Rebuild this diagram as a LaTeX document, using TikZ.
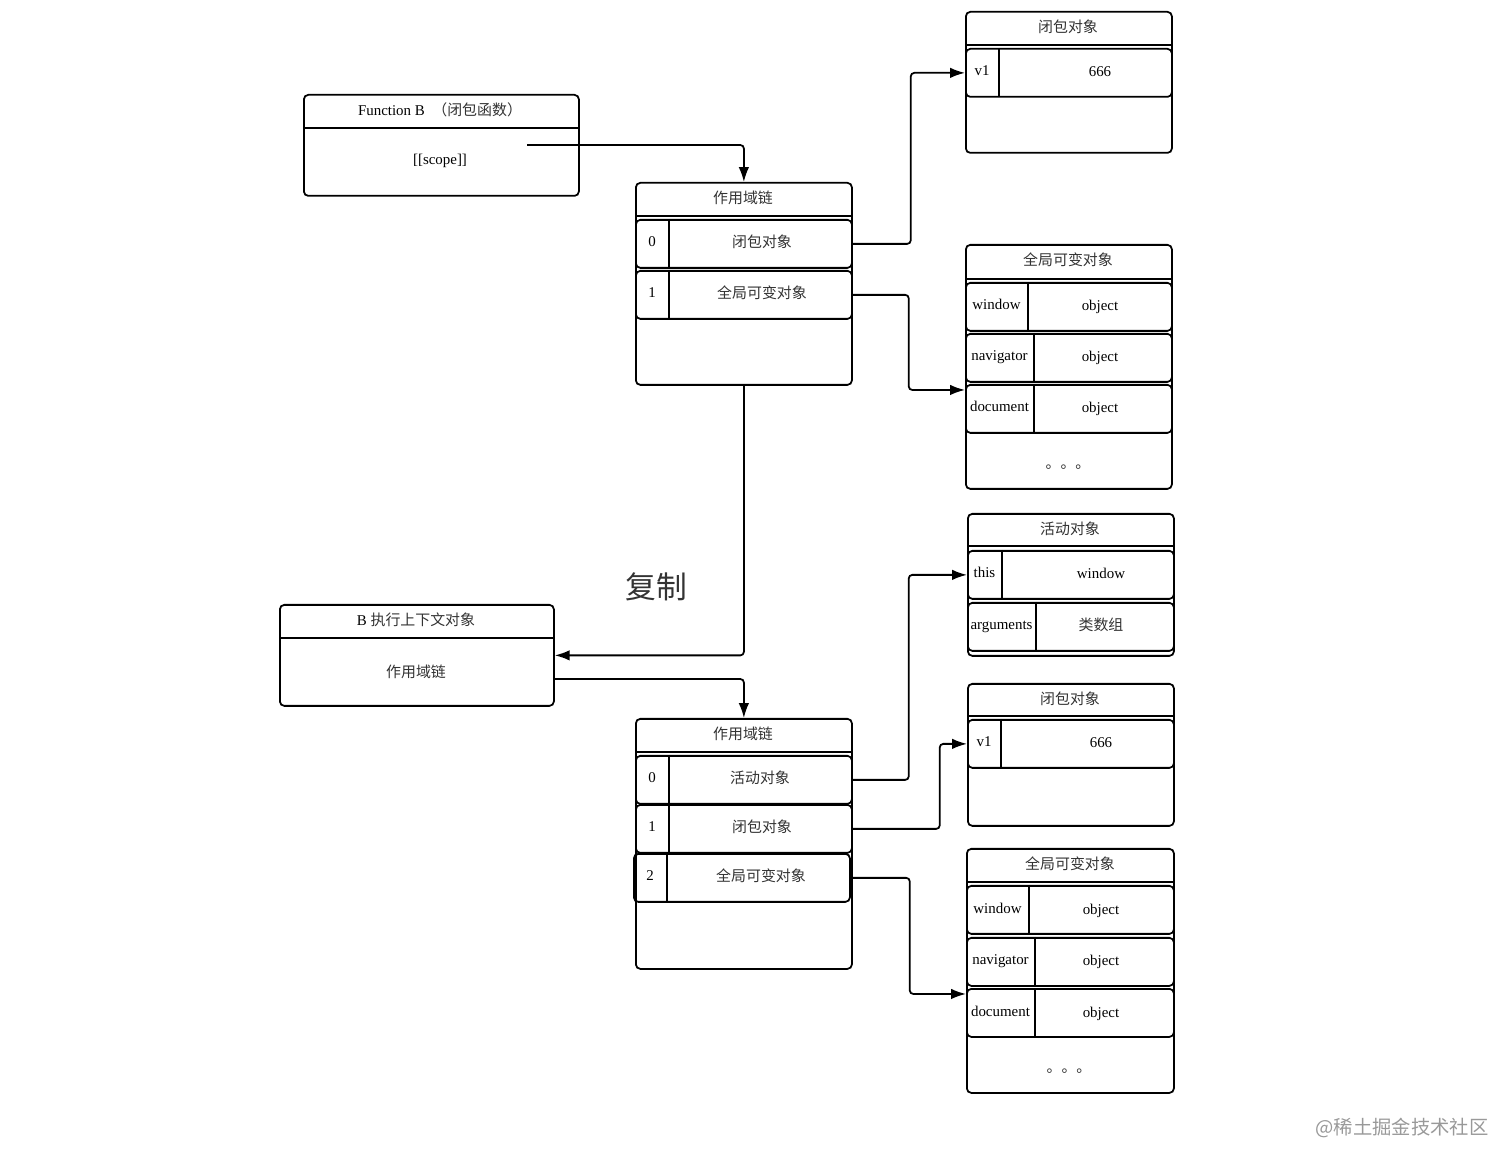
\documentclass[tikz,border=0pt]{standalone}
\usepackage{fontspec}
\setmainfont{Liberation Serif}
\newfontfamily\cjk{Noto Sans CJK SC}
\usetikzlibrary{arrows.meta}

\tikzset{
  frame/.style={draw, line width=1pt, rounded corners=2.5pt, inner sep=0pt, anchor=north west},
  sz/.style 2 args={minimum width=#1*0.02cm, minimum height=#2*0.02cm},
  link/.style={line width=1pt, rounded corners=2pt, -{Latex[length=8.5pt,width=6pt]}},
  rule/.style={line width=1pt},
  zh/.style={font=\fontsize{8.5}{10}\selectfont\cjk, text=black!80},
}
% one slot of a table: name, x, y, width, key width, key, value, value x
\newcommand{\slotrow}[8]{%
  \node[frame, sz={#4}{48}] (#1) at (#2,#3) {};
  \draw[rule] (#2+#5,#3) -- (#2+#5,#3+48);
  \node[anchor=base] (#1-key) at (#2+#5/2,#3+28) {#6};
  \node[anchor=base] (#1-val) at (#8,#3+29) {#7};
}

\begin{document}
\begin{tikzpicture}[x=0.02cm, y=-0.02cm, font=\fontsize{8.5}{10}\selectfont]
    \useasboundingbox (0,0) rectangle (1512,1168);

    % Function B
    \node[frame, sz={275}{101}] (fnB) at (303,94) {};
    \draw[rule] (303,128) -- (578,128);
    \node (fnB-title) at (440,110) {Function B\ \ {\cjk\color{black!80}（闭包函数）}};
    \node (fnB-scope) at (440,161) {[[scope]]};
    \coordinate (scopeOut) at (527,145);

    % scope chain of B
    \node[frame, sz={216}{202}] (chainA) at (635,182) {};
    \draw[rule] (635,216) -- (851,216);
    \node[zh] (chainA-title) at (743,198) {作用域链};
    \slotrow{chainA0}{635}{219}{216}{34}{0}{\cjk\color{black!80}闭包对象}{762}
    \slotrow{chainA1}{635}{270}{216}{34}{1}{\cjk\color{black!80}全局可变对象}{762}

    % closure object
    \node[frame, sz={206}{141}] (closA) at (965,11) {};
    \draw[rule] (965,45) -- (1171,45);
    \node[zh] (closA-title) at (1068,27) {闭包对象};
    \slotrow{closA1}{965}{48}{206}{34}{v1}{666}{1100}

    % global variable object
    \node[frame, sz={206}{244}] (globA) at (965,244) {};
    \draw[rule] (965,279) -- (1171,279);
    \node[zh] (globA-title) at (1068,260) {全局可变对象};
    \slotrow{globA1}{965}{282}{206}{63}{window}{object}{1100}
    \slotrow{globA2}{965}{333}{206}{69}{navigator}{object}{1100}
    \slotrow{globA3}{965}{384}{206}{69}{document}{object}{1100}
    \node[zh] (globA-more) at (1068,467) {。。。};

    % execution context of B
    \node[frame, sz={274}{101}] (ctxB) at (279,604) {};
    \draw[rule] (279,638) -- (553,638);
    \node (ctxB-title) at (416,620) {B {\cjk\color{black!80}执行上下文对象}};
    \node[zh] (ctxB-chain) at (416,672) {作用域链};
    \coordinate (ctxOut) at (553,679);
    \node[zh, font=\fontsize{17.5}{20}\selectfont\cjk] (copy) at (656,587) {复制};

    % scope chain of the context
    \node[frame, sz={216}{250}] (chainB) at (635,718) {};
    \draw[rule] (635,752) -- (851,752);
    \node[zh] (chainB-title) at (743,734) {作用域链};
    \slotrow{chainB0}{635}{755}{216}{34}{0}{\cjk\color{black!80}活动对象}{760}
    \slotrow{chainB1}{635}{804}{216}{34}{1}{\cjk\color{black!80}闭包对象}{762}
    \slotrow{chainB2}{633}{853}{216}{34}{2}{\cjk\color{black!80}全局可变对象}{761}

    % activation object
    \node[frame, sz={206}{142}] (act) at (967,513) {};
    \draw[rule] (967,546) -- (1173,546);
    \node[zh] (act-title) at (1070,529) {活动对象};
    \slotrow{act1}{967}{550}{206}{35}{this}{window}{1101}
    \slotrow{act2}{967}{602}{206}{69}{arguments}{\cjk\color{black!80}类数组}{1101}

    % closure object, second copy
    \node[frame, sz={206}{142}] (closB) at (967,683) {};
    \draw[rule] (967,716) -- (1173,716);
    \node[zh] (closB-title) at (1070,699) {闭包对象};
    \slotrow{closB1}{967}{719}{206}{34}{v1}{666}{1101}

    % global variable object, second copy
    \node[frame, sz={207}{244}] (globB) at (966,848) {};
    \draw[rule] (966,882) -- (1173,882);
    \node[zh] (globB-title) at (1070,864) {全局可变对象};
    \slotrow{globB1}{966}{885}{207}{63}{window}{object}{1101}
    \slotrow{globB2}{966}{937}{207}{69}{navigator}{object}{1101}
    \slotrow{globB3}{966}{988}{207}{69}{document}{object}{1101}
    \node[zh] (globB-more) at (1069,1071) {。。。};

    % connectors
    \draw[link] (scopeOut) -| (chainA.north);
    \draw[link] (chainA0.east) -- ++(58,0) |- (closA1.west);
    \draw[link] (chainA1.east) -- ++(56,0) |- ([yshift=-3.4pt]globA3.north west);
    \draw[link] (chainA.south) |- (ctxB.east);
    \draw[link] (ctxOut) -| (chainB.north);
    \draw[link] (chainB0.east) -- ++(56,0) |- (act1.west);
    \draw[link] (chainB1.east) -- ++(87,0) |- (closB1.west);
    \draw[link] (chainB2.east) -- ++(59,0) |- ([yshift=-3.4pt]globB3.north west);

    \node[font=\fontsize{11}{13}\selectfont\cjk, text=black!40] (mark) at (1402,1128) {@稀土掘金技术社区};
\end{tikzpicture}
\end{document}
